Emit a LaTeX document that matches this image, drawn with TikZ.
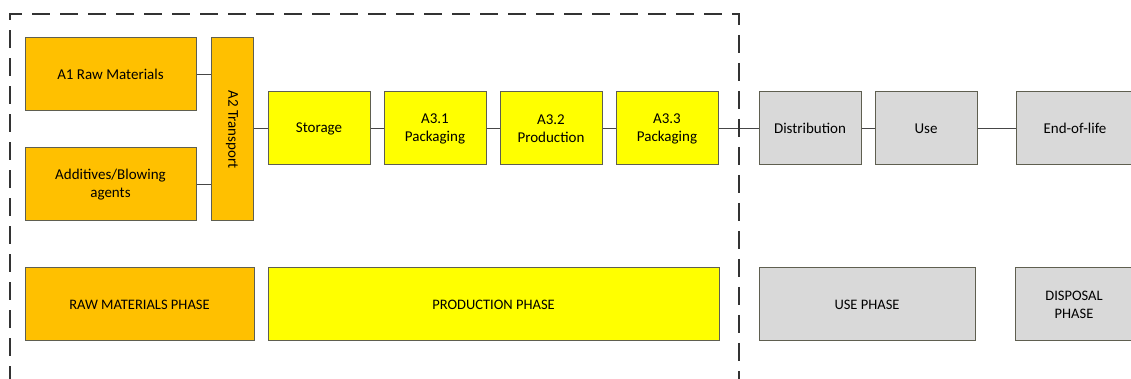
\documentclass[tikz,border=0pt]{standalone}
\usepackage{fontspec}
\setmainfont{Carlito}
\usepackage{xcolor}
\usetikzlibrary{positioning}
\definecolor{rawgold}{RGB}{255,192,0}
\definecolor{prodyellow}{RGB}{255,255,0}
\definecolor{usegrey}{RGB}{217,217,217}
\definecolor{boxline}{RGB}{95,95,80}
\definecolor{linkgrey}{RGB}{70,70,70}

\begin{document}
\begin{tikzpicture}[
  x=1pt, y=1pt,
  font=\fontsize{15}{18}\selectfont,
  node distance=13pt and 13pt,
  stage/.style={draw=boxline,line width=1pt,minimum width=102pt,minimum height=73pt,align=center,inner sep=2pt},
  phase/.style={stage,font=\fontsize{14.5}{18}\selectfont},
  link/.style={draw=linkgrey,line width=0.9pt},
  frame/.style={draw=black!80,line width=1.2pt,dash pattern=on 18pt off 10pt}
]
\useasboundingbox (0,0) rectangle (1131,379);
% raw materials
\node[stage,fill=rawgold,minimum width=171pt] (rawmat) at (110.5,304.5) {A1 Raw Materials};
\node[stage,fill=rawgold,minimum width=171pt] (additives) at (110.5,194.5) {Additives/Blowing\\agents};
\node[stage,fill=rawgold,minimum width=183pt,minimum height=42pt,rotate=-90] (transport) at (232,249.5) {A2 Transport};
% production
\node[stage,fill=prodyellow] (storage) at (319,250.5) {Storage};
\node[stage,fill=prodyellow,right=of storage] (pack1) {A3.1\\Packaging};
\node[stage,fill=prodyellow,right=of pack1] (prod) {A3.2\\Production};
\node[stage,fill=prodyellow,right=of prod] (pack3) {A3.3\\Packaging};
% use and disposal
\node[stage,fill=usegrey,right=40pt of pack3] (distrib) {Distribution};
\node[stage,fill=usegrey,right=13pt of distrib] (use) {Use};
\node[stage,fill=usegrey,minimum width=118pt,right=38pt of use] (eol) {End-of-life};
% phases
\node[phase,fill=rawgold,minimum width=229pt] (rawphase) at (139.5,74.5) {RAW MATERIALS PHASE};
\node[phase,fill=prodyellow,minimum width=451pt,right=of rawphase] (prodphase) {PRODUCTION PHASE};
\node[phase,fill=usegrey,minimum width=216pt] (usephase) at (867,74.5) {USE PHASE};
\node[phase,fill=usegrey,minimum width=118pt,right=39pt of usephase] (disphase) {DISPOSAL\\PHASE};
% links
\draw[link] (rawmat.east) -- (rawmat.east -| transport.south);
\draw[link] (additives.east) -- (additives.east -| transport.south);
\draw[link] (storage.west -| transport.north) -- (storage.west);
\draw[link] (storage) -- (pack1);
\draw[link] (pack1) -- (prod);
\draw[link] (prod) -- (pack3);
\draw[link] (pack3) -- (distrib);
\draw[link] (distrib) -- (use);
\draw[link] (use) -- (eol);
% system boundary
\draw[frame] (10,-5) |- (739,365) -- (739,-5);
\end{tikzpicture}
\end{document}
